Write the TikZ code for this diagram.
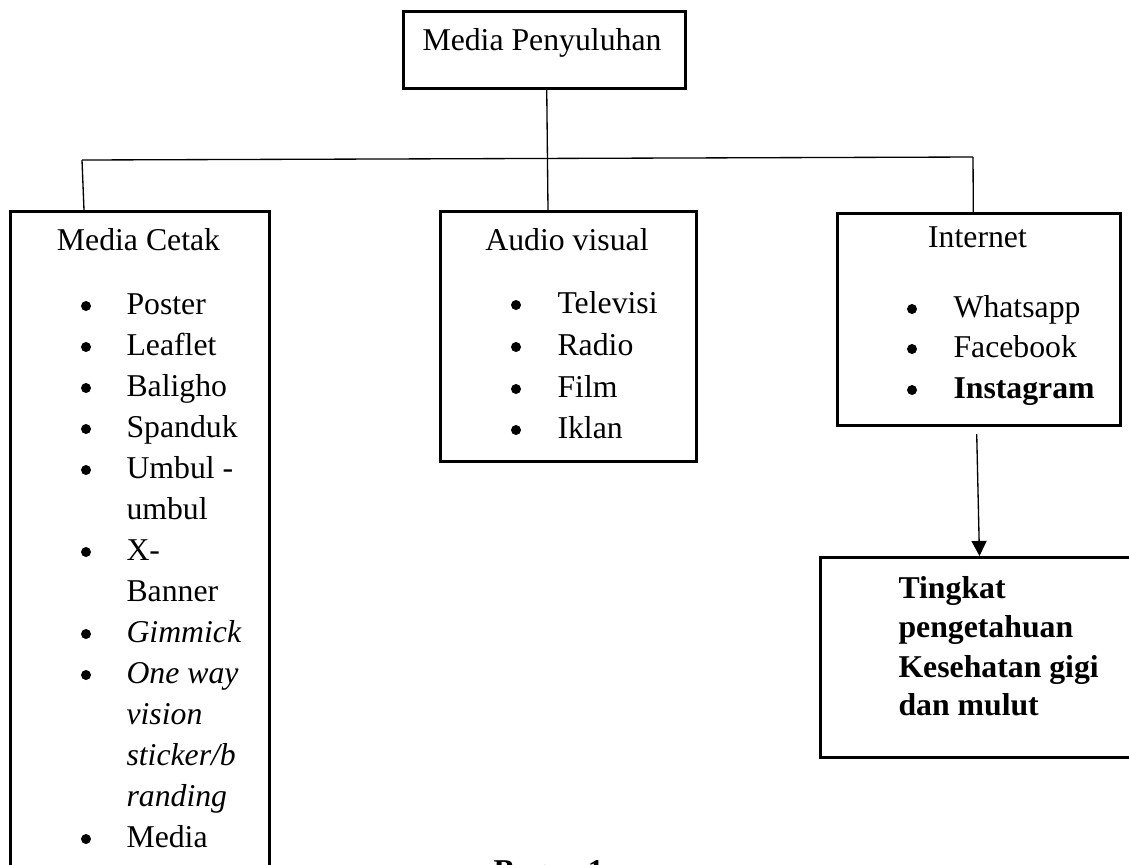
\documentclass[tikz,border=0pt]{standalone}
\usepackage{fontspec}
\setmainfont{Liberation Serif}
\usetikzlibrary{arrows.meta}
\def\px{0.378pt}
\begin{document}
\begin{tikzpicture}[x=0.378pt,y=-0.378pt,
  box/.style={draw, line width=1.1pt, anchor=north west, inner sep=0pt},
  conn/.style={line width=0.5pt},
  txt/.style={inner sep=0pt, font=\fontsize{12pt}{15.5pt}\selectfont},
  item/.style={txt, anchor=base west},
  bul/.style={circle, fill, inner sep=0pt, minimum size=10*\px},
]
\useasboundingbox (0,0) rectangle (1129,864);
% boxes
\node[box, minimum width=282*\px, minimum height=77*\px] (top) at (402,10) {};
\node[box, minimum width=259*\px, minimum height=720*\px] (cetak) at (9,210) {};
\node[box, minimum width=256*\px, minimum height=250*\px] (av) at (439,210) {};
\node[box, minimum width=283*\px, minimum height=212*\px] (inet) at (836,212) {};
\node[box, minimum width=318*\px, minimum height=200*\px] (tingkat) at (819,556) {};
% titles
\node[txt, anchor=base] (tTop) at (542,50) {Media Penyuluhan};
\node[txt, anchor=base] (tCetak) at (138.5,250) {Media Cetak};
\node[txt, anchor=base] (tAv) at (567,250) {Audio visual};
\node[txt, anchor=base] (tInet) at (977.5,247) {Internet};
% Media Cetak list
\foreach \k/\t in {0/Poster,1/Leaflet,2/Baligho,3/Spanduk,4/{Umbul -},5/umbul,6/X-,7/Banner,8/\textit{Gimmick},9/\textit{One way},10/\textit{vision},11/\textit{sticker/b},12/\textit{randing},13/Media}
  \node[item] (c\k) at (126,314+41*\k) {\t};
\foreach \k in {0,1,2,3,4,6,8,9,13}
  \node[bul] (cb\k) at (86,306+41*\k) {};
% Audio visual list
\foreach \k/\y/\t in {0/313/Televisi,1/355/Radio,2/397/Film,3/438/Iklan}{
  \node[item] (a\k) at (557,\y) {\t};
  \node[bul] (ab\k) at (516,\y-8) {};
}
% Internet list
\foreach \k/\y/\t in {0/317/Whatsapp,1/357/Facebook,2/398/\textbf{Instagram}}{
  \node[item] (i\k) at (953,\y) {\t};
  \node[bul] (ib\k) at (912,\y-8) {};
}
% Tingkat text
\foreach \k/\y/\t in {0/598/Tingkat,1/637/pengetahuan,2/677/Kesehatan gigi,3/715/dan mulut}
  \node[item] (tk\k) at (898,\y) {\textbf{\t}};
% caption
\node[item] (bagan) at (493,881) {\textbf{Bagan 1}};
% connectors
\coordinate (hL) at (82,160);
\coordinate (hR) at (973,157);
\coordinate (tB) at (546.7,87);
\coordinate (avT) at (548,210);
\coordinate (cT) at (84,210);
\coordinate (iT) at (973.3,212);
\coordinate (a1) at (976.7,434);
\draw[conn] (hL) -- (hR);
\draw[conn] (tB) -- (avT);
\draw[conn] (hL) -- (cT);
\draw[conn] (hR) -- (iT);
\draw[conn, -{Triangle[width=5.7pt, length=5.7pt]}] (a1) -- (tingkat.north);
\end{tikzpicture}
\end{document}
